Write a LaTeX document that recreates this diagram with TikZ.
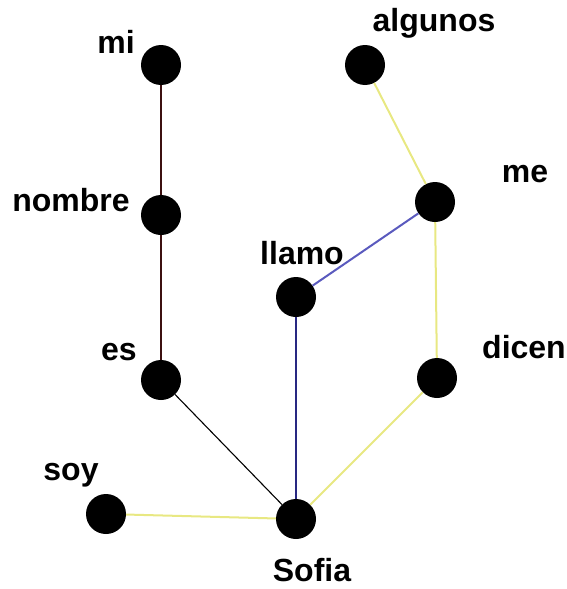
\documentclass[tikz,border=0pt]{standalone}
\usepackage{fontspec}
\setmainfont{Liberation Sans}
\begin{document}
\begin{tikzpicture}[x=1pt,y=-1pt,
  dot/.style={circle,fill=black,inner sep=0pt,minimum size=40pt},
  lab/.style={font=\fontsize{32}{33}\selectfont\bfseries,anchor=base,inner sep=0pt},
  brown/.style={draw={rgb,255:red,60;green,16;blue,16},line width=2pt},
  thin/.style={draw=black,line width=1.1pt},
  navy/.style={draw={rgb,255:red,40;green,40;blue,130},line width=2pt},
  blu/.style={draw={rgb,255:red,90;green,90;blue,190},line width=2pt},
  yel/.style={draw={rgb,255:red,232;green,232;blue,130},line width=2pt}]
\useasboundingbox (0,0) rectangle (566,589);
\node[dot] (mi) at (161,65) {};
\node[dot] (algunos) at (365,65) {};
\node[dot] (me) at (435,202) {};
\node[dot] (nombre) at (161,215) {};
\node[dot] (llamo) at (296,297) {};
\node[dot] (es) at (161,380) {};
\node[dot] (dicen) at (437,378) {};
\node[dot] (soy) at (106,514) {};
\node[dot] (sofia) at (296,519) {};
\draw[brown] (mi) -- (nombre);
\draw[brown] (nombre) -- (es);
\draw[thin] (es) -- (sofia);
\draw[navy] (llamo) -- (sofia);
\draw[blu] (me) -- (llamo);
\draw[yel] (algunos) -- (me);
\draw[yel] (me) -- (dicen);
\draw[yel] (dicen) -- (sofia);
\draw[yel] (soy) -- (sofia);
\node[lab] (lmi) at (116,53) {mi};
\node[lab] (lalgunos) at (434,31) {algunos};
\node[lab] (lme) at (525,182) {me};
\node[lab] (lnombre) at (71,211) {nombre};
\node[lab] (lllamo) at (302,264) {llamo};
\node[lab] (les) at (119,360) {es};
\node[lab] (ldicen) at (524,358) {dicen};
\node[lab] (lsoy) at (71,480) {soy};
\node[lab] (lsofia) at (312,581) {Sofia};
\end{tikzpicture}
\end{document}
